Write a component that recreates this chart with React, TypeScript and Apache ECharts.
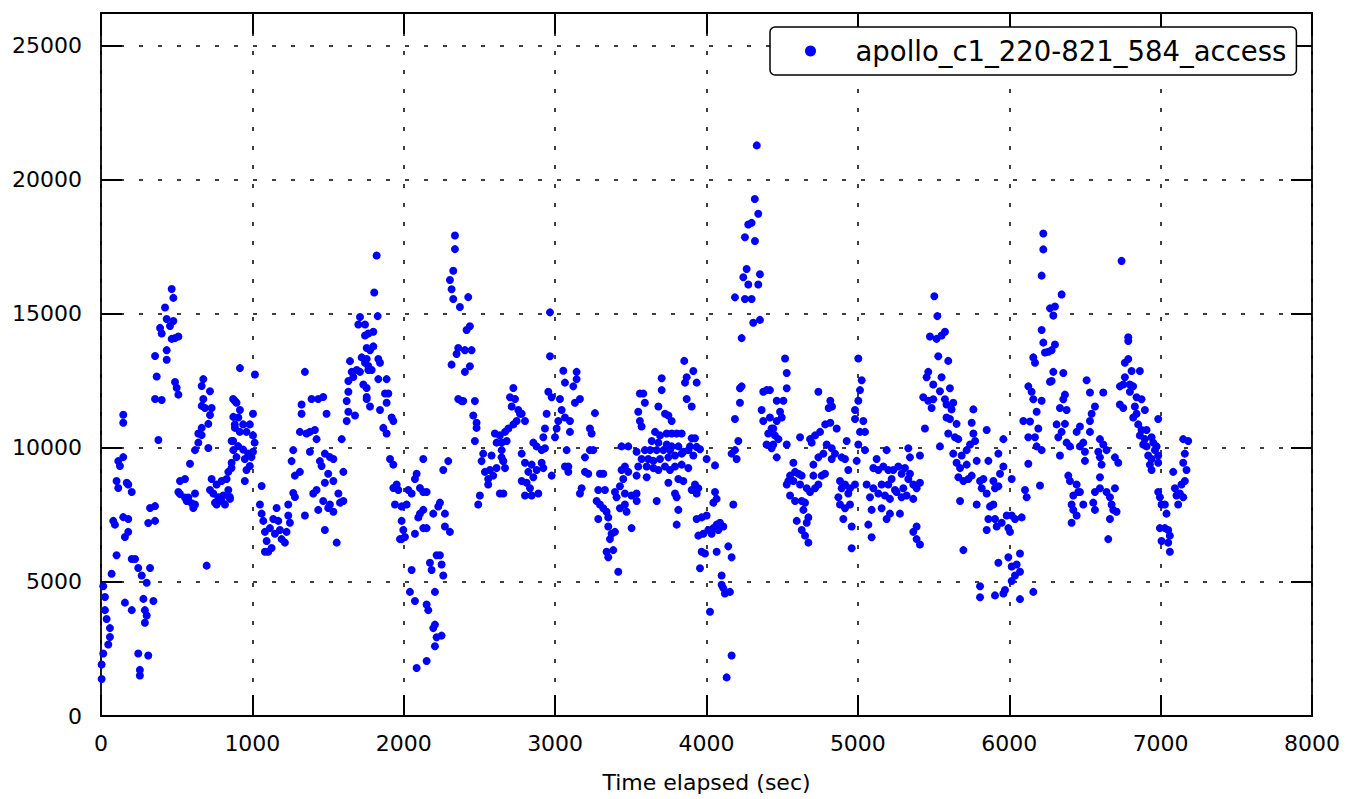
import { useEffect, useRef } from "react";
import * as echarts from "echarts";

const seriesName = "apollo_c1_220-821_584_access";
const xAxisName = "Time elapsed (sec)";
const xMin = 0;
const xMax = 8000;
const xStep = 1000;
const yMin = 0;
const yMax = 26230;
const yStep = 5000;

// [time elapsed (sec), access count]
const seg0to1000: number[][] = [
  [4,1380],[4,1920],[15,2330],[48,2670],[59,2950],[59,3280],[37,3620],[26,3950],[26,4440],[15,4840],[70,5310],[103,6000],[81,7280],[92,7140],[147,7420],[180,7350],[180,6870],[158,6680],[103,8770],[114,8510],[180,8640],[203,8360],[170,8700],[114,9510],[147,9660],[125,9330],[147,11240],[147,10940],
  [203,5860],[225,5860],[246,5520],[269,5240],[302,4970],[324,5520],[158,4230],[203,3950],[280,4370],[346,4290],[290,3950],[302,3750],[290,3480],[246,2330],[312,2260],[257,1720],[257,1510],
  [324,7760],[357,7830],[312,7200],[357,7280],[379,10300],[357,11830],[401,11790],[368,12670],[357,13430],[434,13650],[434,13290],[489,12460],[511,11990],[500,12250],
  [467,15930],[478,15600],[423,15240],[434,14810],[478,14740],[456,14550],[401,14270],[390,14480],[467,14070],[511,14160],[489,14100],
  [522,8770],[555,8840],[511,8360],[522,8280],[555,8150],[566,8020],[577,8150],[599,7940],[610,7760],[621,8300],[621,7890],[588,9410],[621,9920],[643,10200],[665,10750],[643,10540],[665,10480],[676,12570],[665,12310],[720,12120],[676,11830],[665,11570],[687,11490],[731,11490],[720,11230],[709,10900],[709,10000],[698,5610],
  [731,8840],[764,8640],[797,8770],[830,8840],[720,8430],[742,8300],[775,8160],[797,8020],[819,7890],[753,7960],[808,8230],[841,8430],[852,8100],[764,7890],
  [841,9110],[863,9450],[874,9920],[863,10260],[885,10750],[874,11160],[885,11750],
  [918,12980],[1017,12740],[873,11830],[895,11690],[918,11420],[907,11140],[884,10880],[917,10600],[939,10880],[983,10880],[1004,11280],[1004,10470],[1015,10200],[961,10600],[873,10260],[906,10070],[939,9940],[972,9790],[1004,9860],[994,9660],[950,9590],[895,9660],[862,9250],[983,9330],[961,9180],[950,8770],[851,8170],
];

const seg1000to2000: number[][] = [
  [1061,8580],[1050,7890],[1061,7550],[1072,7280],[1083,6870],[1094,6530],[1105,6130],[1138,7350],[1160,7760],[1171,7280],[1182,6940],[1193,6600],[1215,6470],[1237,7890],[1237,7480],[1248,7210],[1226,6870],[1116,7010],[1149,6800],[1127,6270],[1083,6130],
  [1270,8320],[1281,8170],[1281,8970],[1259,9510],[1270,9920],[1314,9110],[1325,11620],[1325,11280],[1347,12840],[1358,10540],[1380,10600],[1413,10670],[1435,11830],[1391,11830],[1314,10600],[1347,7480],[1380,9860],[1424,10330],[1446,9510],[1457,9330],[1479,9790],[1512,9660],[1535,9590],[1501,9040],[1479,8700],[1535,8770],[1424,8430],[1402,8300],[1468,8020],[1501,7760],[1535,7620],[1579,7960],[1601,8020],[1568,8300],[1435,7690],[1479,6940],[1557,6470],[1512,7890],[1601,9110],[1468,11900],[1490,11280],
  [1590,10330],[1623,11010],[1634,11350],[1623,11750],[1634,12100],[1634,12500],[1645,13240],[1656,12840],[1667,12650],[1678,11210],[1689,12910],[1711,12840],[1722,13380],[1700,14610],[1711,14890],[1744,14200],[1755,13730],[1744,13180],[1755,12240],[1766,13060],[1733,12370],[1755,11900],
  [1821,17180],[1805,15800],[1828,14920],[1744,14610],[1766,14270],[1799,14340],[1799,13790],[1777,13650],[1755,13320],[1766,12910],[1788,12910],[1832,13320],[1843,13180],[1832,12570],[1887,12570],[1755,11830],[1777,11550],[1876,12030],[1898,12030],[1887,11690],[1843,11420],[1920,11140],[1931,11010],[1865,10750],[1887,10540],
  [1909,9590],[1931,9380],[1931,8510],[1953,8640],[1964,8430],[1942,7890],[1986,7820],[2019,7890],[1986,7280],[1997,6940],[1986,6600],[1975,6600],[2008,6680],
];

const seg2000to3000: number[][] = [
  [2030,8430],[2052,8300],[2074,8840],[2085,9040],[2107,8510],[2129,8360],[2151,8360],[2107,7550],[2129,7690],[2096,7410],[2129,7010],[2151,7010],[2074,6800],[2129,9590],[2195,7550],[2239,7960],[2228,7820],[2272,7550],[2272,7070],[2305,6870],[2294,9510],[2261,9180],
  [2052,5450],[2041,4630],[2074,4290],[2151,4160],[2162,3950],[2173,5720],[2184,5450],[2217,6000],[2239,6000],[2250,5650],[2261,5240],[2206,4630],[2206,3410],[2195,3280],[2217,2940],[2250,3000],[2206,2600],[2085,1790],[2151,2050],
  [2338,17930],[2338,17420],[2327,16610],[2305,16270],[2316,15920],[2327,15560],[2371,15260],[2426,15630],[2415,14400],[2437,14540],[2360,13730],[2404,13650],[2448,13650],[2349,13510],[2316,13110],[2404,12840],[2437,13050],[2360,11830],[2382,11750],[2393,11750],[2470,11750],[2459,11210],[2481,10940],[2481,10750],[2470,10260],
  [2525,9790],[2514,9510],[2536,9110],[2591,8970],[2558,8640],[2503,8230],[2492,7890],[2602,10540],[2613,10200],[2635,10470],[2646,10200],[2580,9720],[2646,9650],[2657,9510],[2613,9250],[2569,9180],[2558,8840],[2635,8300],
  [2724,12240],[2702,11890],[2735,11830],[2713,11550],[2757,11420],[2779,11280],[2801,11010],[2746,11010],[2724,10880],[2691,10730],[2669,10600],[2680,10260],[2647,9920],[2658,9510],[2669,9250],[2768,11280],[2658,8300],[2779,9790],[2801,9450],[2856,10200],[2878,10060],[2911,9920],[2845,9380],[2878,9180],[2823,9110],[2911,9450],[2779,8770],[2856,8910],[2812,8700],[2834,8500],[2801,8230],[2845,8230],[2889,8300],[2922,9250],[2977,8970],[2933,9990],
  [2966,15060],[2966,13420],[3054,12880],[3142,12840],[3142,12570],[3065,12440],[3120,12300],[3164,11830],[3131,11690],[3032,11830],[2955,12100],[2977,11890],[3043,11420],[3065,11140],[2944,11280],[3021,11010],[3098,11010],[3098,10600],[3010,10730],[2999,10400],[2933,10730],[2922,10400],[3263,11300],[3230,10730],[3241,10540],
];

const seg3000to4000: number[][] = [
  [3076,9920],[3087,9310],[3087,9110],[3065,9310],[3175,8500],[3164,8300],[3197,9110],[3219,9040],[3197,9650],[3230,9920],[3252,9920],[3296,9040],[3318,9040],[3285,8430],[3274,8020],[3296,7890],[3318,7750],[3285,7350],[3340,7620],[3351,7410],[3351,7070],[3373,6800],[3395,6870],[3362,6600],[3340,6130],[3351,5920],[3384,6190],[3417,5380],[3329,8430],[3395,8360],[3406,8160],[3428,8570],[3450,8840],[3439,9180],[3461,9310],[3483,9110],[3505,8230],[3461,7890],[3472,7620],[3428,7750],[3505,7010],[3439,10060],[3483,10060],[3538,9860],[3538,8970],[3549,9310],[3538,8300],[3549,11350],[3560,11010],[3560,12030],[3461,8300],
  [3853,13250],[3913,12870],[3869,12640],[3935,12440],[3858,12440],[3869,11830],[3902,11550],
  [3704,12600],[3704,12160],[3682,11550],[3726,11280],[3748,11210],[3770,11010],[3582,12030],[3593,11690],[3571,10800],[3539,8020],[3571,9590],
  [3660,10600],[3693,10470],[3737,10540],[3770,10540],[3803,10540],[3836,10540],[3638,10260],[3682,10200],[3737,10130],[3770,10060],[3814,10060],[3902,10360],[3924,10360],[3891,10060],[3935,10040],[3593,9920],[3627,9920],[3671,9920],[3715,9920],[3759,9920],[3847,9860],[3880,9920],[3957,9950],[3615,9590],[3649,9520],[3693,9590],[3748,9650],[3792,9720],[3836,9790],[3913,9720],[3605,9310],[3649,9250],[3682,9180],[3726,9310],[3759,9180],[3792,9310],[3836,9380],[3880,9250],
  [3605,8910],[3671,8020],[3748,8700],[3792,8300],[3803,8160],[3814,8840],[3847,8770],[3814,7690],[3803,7140],[3924,8640],[3946,8500],[3935,8300],[3902,8430],
  [3935,7350],[3968,7410],[4001,7480],[3946,6730],[3979,6800],[4012,6940],[4045,7010],[4067,7140],[4089,7210],[4111,7070],[4034,6800],[4078,6940],[3968,6130],[3990,6060],[3957,5510],[4067,6130],[4144,6330],[4166,5920],[4056,8360],[4067,8100],[4045,7960],[4177,7890],[4100,5240],[4100,4900],[4122,4570],[4155,4630],[4111,4770],[4023,3890],[4166,2260],[4133,1440],
  [4001,9590],[4056,9350],
];

const seg4000to5000: number[][] = [
  [4188,11080],[4210,10260],[4221,11690],[4221,12230],[4232,12300],[4166,9790],[4188,9920],[4199,9590],[4375,12100],[4397,12160],[4364,11420],[4375,11010],[4408,10540],[4430,10730],[4397,10130],[4430,9990],
  [4332,21290],[4319,19290],[4342,18740],[4298,18400],[4276,18340],[4254,17860],[4320,17720],[4265,16680],[4243,16370],[4276,16100],[4342,16100],[4353,16480],[4188,15620],[4254,15560],[4298,15560],[4309,14670],[4353,14780],[4232,14100],
  [4519,13340],[4530,12800],[4530,12230],[4464,11760],[4508,11760],[4486,11350],[4497,11140],[4464,11010],[4441,10730],[4452,10470],[4475,10330],[4441,10130],[4464,9650],[4530,10130],[4419,12160],[4419,11140],
  [4739,12100],[4818,11760],[4807,11490],[4829,11550],
  [4784,10880],[4818,10940],[4860,10730],[4750,10600],[4717,10470],[4684,10330],[4695,10200],[4618,10400],[4794,10130],[4827,9990],[4849,9790],[4893,9650],[4772,9790],[4739,9650],[4706,9380],[4827,9590],[4926,10260],[4915,9590],
  [4574,9450],[4585,9110],[4552,8970],[4607,9040],[4629,8970],[4541,8770],[4574,8770],[4530,8640],[4618,8640],[4706,8970],[4662,8500],[4684,8360],[4717,8500],[4739,8640],[4761,8970],[4783,9040],[4552,8230],[4585,8020],[4629,8020],[4651,7960],[4640,7690],[4673,7410],[4662,7210],[4596,7280],[4629,6940],[4651,6730],[4673,6470],[4937,9180],[4882,8770],[4893,8500],[4915,8640],[4948,8500],[4981,8640],[4937,8300],[4871,8160],[4882,7890],[4915,7750],[4948,7890],[4904,7350],[4959,7070],[4959,6260],
];

const seg5000to6000: number[][] = [
  [5003,13340],[5025,12530],[5014,12160],[5003,11760],[4981,11420],[4981,11080],[5036,11010],[5047,10600],[5014,10600],[5003,10130],[5047,9920],[4992,9520],
  [5124,9590],[5102,9250],[5135,9180],[5168,9310],[5201,9180],[5190,9920],[5234,9180],[5267,9310],[5289,9040],[5311,9250],[5333,9990],[5058,8640],[5102,8500],[5080,8160],[5135,8300],[5157,8640],[5201,8640],[5223,8840],[5245,8430],[5179,8230],[5212,8100],[5256,8360],[5289,8160],[5300,8500],[5322,8230],[5091,7690],[5157,7750],[5190,7350],[5212,7550],[5278,7550],[5069,7140],[5091,6670],
  [5344,9650],[5344,9040],[5333,8840],[5366,8640],[5410,8700],[5388,8500],[5410,9720],[5366,8100],[5388,7070],[5366,6870],[5388,6600],[5410,6400],
  [5505,15660],[5525,14920],[5476,14160],[5520,14070],[5553,14200],[5575,14340],[5531,13420],[5597,13250],[5465,12840],[5454,12640],[5498,12370],[5553,12640],[5542,12120],[5608,12230],[5432,11890],[5465,11760],[5498,11820],[5487,11490],[5575,11820],[5586,11620],[5630,11690],[5619,11440],[5586,11140],[5608,11080],[5652,10900],[5597,10540],[5641,10400],[5663,10330],[5443,10730],[5542,10060],
  [5763,11440],[5752,10940],[5763,10540],[5774,10260],[5741,10130],[5719,9920],[5686,9720],[5630,9790],[5652,9450],[5675,9250],[5719,9380],[5785,9520],[5862,9520],[5851,10670],[5664,8910],[5697,8770],[5730,8840],[5752,8970],[5675,8020],[5697,6190],[5785,7890],[5807,8770],[5829,8840],[5818,8500],[5851,8300],[5895,8770],[5906,8500],[5928,8570],[5873,7820],[5895,7890],[5862,7350],[5906,7350],[5851,6940],[5917,7070],[5950,7210],[5983,7480],[5994,7010],[5939,9040],[5961,9310],[5961,10330],[5928,9790],
  [5928,5720],[5994,5920],[5972,4700],[5961,4570],[5807,4840],[5807,4430],[5906,4500],
];

const seg6000to7200: number[][] = [
  [6016,7480],[6038,7350],[6082,7410],[6005,6870],[6016,8840],
  [6071,6060],[6016,5580],[6049,5650],[6071,5380],[6038,5240],[6016,5040],[6071,4360],[6159,4630],
  [6225,18000],[6225,17410],[6214,16430],[6214,14400],[6225,13930],[6236,13560],[6159,13380],[6170,13180],[6126,12300],[6148,12100],[6159,11820],[6214,11760],[6181,11350],[6093,11010],[6137,10990],[6192,10730],[6126,10400],[6170,10400],[6181,10060],[6214,9920],[6126,9410],[6104,8430],[6115,8160],[6203,8600],
  [6346,15730],[6269,15210],[6302,15280],[6291,14940],[6302,13860],[6280,13650],[6258,13590],[6291,12840],[6357,12800],[6280,12500],[6269,12470],[6368,11990],[6357,11820],[6335,11490],[6379,11420],[6313,10880],[6368,10900],[6346,10600],[6324,10400],[6379,10200],[6401,10060],[6335,9720],
  [6511,12530],[6533,12070],[6621,12070],[6566,11550],[6544,11280],[6533,11010],[6467,10800],[6445,10600],[6533,10600],[6489,10200],[6467,10060],[6500,9860],[6599,10330],[6621,10130],[6588,9860],[6643,9920],[6599,9650],[6610,9380],[6500,9520],[6698,9650],[6720,9450],
  [6390,8970],[6401,8770],[6445,8640],[6456,8360],[6423,8230],[6412,7890],[6423,7690],[6445,7480],[6412,7210],[6489,7890],[6566,8360],[6555,7960],[6566,7690],[6599,8910],[6599,8500],[6643,8360],[6665,8160],[6676,7890],[6698,8500],[6687,7690],[6709,7620],[6665,7350],[6654,6600],[6467,8360],
  [6742,16980],[6786,14130],[6786,13990],[6764,13180],[6786,13320],
  [6731,12300],[6753,12370],[6808,12870],[6863,12870],[6764,12640],[6797,12370],[6819,12300],[6797,12100],[6841,11890],[6874,11820],[6731,11620],[6753,11490],[6830,11550],[6896,11420],[6841,11280],[6819,11140],[6852,10880],[6874,10670],[6907,10670],[6863,10470],[6896,10330],[6940,10400],[6951,10200],[6885,10130],[6907,10060],[6973,10060],[6962,9920],[6918,9720],[6940,9590],[6984,9720],[6929,9380],[6940,9180],[6984,9450],[6984,11080],
  [6984,8360],[6995,8160],[7006,7890],[7028,7890],[7039,7550],[6995,7010],[7028,7010],[7050,6940],[7061,6730],[7006,6530],[7050,6470],[7061,6130],[7083,9110],[7094,8500],[7105,8230],[7127,8300],[7138,8640],[7116,7890],[7149,8160],[7160,8770],[7171,9180],[7149,9450],[7160,9790],[7149,10330],[7182,10260],
];

const FONT = "'DejaVu Sans', sans-serif";

function tick() {
  return { show: true, inside: true, length: 21, lineStyle: { color: "#000", width: 2 } };
}
function axisLineStyle() {
  return { show: true, onZero: false, lineStyle: { color: "#000", width: 1.8 } };
}
function gridLine() {
  return { show: true, lineStyle: { color: "#000", width: 1.5, type: [4, 15] as any } };
}

export default function App() {
  const ref = useRef<HTMLDivElement>(null);
  useEffect(() => {
    if (!ref.current) return;
    const chart = echarts.init(ref.current, undefined, { renderer: "svg" });
    const points = [
      ...seg0to1000,
      ...seg1000to2000,
      ...seg2000to3000,
      ...seg3000to4000,
      ...seg4000to5000,
      ...seg5000to6000,
      ...seg6000to7200,
    ];
    const plain = (v: number) => String(v);
    chart.setOption({
      animation: false,
      backgroundColor: "#fff",
      textStyle: { fontFamily: FONT },
      grid: { left: 101, right: 34, top: 13, bottom: 83, containLabel: false },
      legend: {
        data: [{ name: seriesName, icon: "circle" }],
        left: 770,
        top: 27,
        orient: "horizontal",
        padding: [10, 10, 10, 35],
        itemWidth: 80,
        itemHeight: 11,
        backgroundColor: "#fff",
        borderColor: "#000",
        borderWidth: 1.5,
        borderRadius: 5,
        textStyle: { fontSize: 27.5, color: "#000", fontFamily: FONT },
        z: 10,
      },
      xAxis: [
        {
          type: "value",
          position: "bottom",
          min: xMin,
          max: xMax,
          interval: xStep,
          name: xAxisName,
          nameLocation: "middle",
          nameGap: 55,
          nameTextStyle: { fontSize: 22, color: "#000", fontFamily: FONT },
          axisLine: axisLineStyle(),
          axisTick: tick(),
          axisLabel: { fontSize: 22, color: "#000", margin: 16, fontFamily: FONT, formatter: plain },
          splitLine: gridLine(),
        },
        {
          type: "value",
          position: "top",
          min: xMin,
          max: xMax,
          interval: xStep,
          axisLine: axisLineStyle(),
          axisTick: tick(),
          axisLabel: { show: false },
          splitLine: { show: false },
        },
      ],
      yAxis: [
        {
          type: "value",
          position: "left",
          min: yMin,
          max: yMax,
          interval: yStep,
          axisLine: axisLineStyle(),
          axisTick: tick(),
          axisLabel: { fontSize: 22, color: "#000", margin: 19, fontFamily: FONT, showMaxLabel: false, formatter: plain },
          splitLine: gridLine(),
        },
        {
          type: "value",
          position: "right",
          min: yMin,
          max: yMax,
          interval: yStep,
          axisLine: axisLineStyle(),
          axisTick: tick(),
          axisLabel: { show: false },
          splitLine: { show: false },
        },
      ],
      series: [
        {
          name: seriesName,
          type: "scatter",
          xAxisIndex: 0,
          yAxisIndex: 0,
          symbol: "circle",
          symbolSize: 8,
          itemStyle: { color: "#0000ff", opacity: 1 },
          data: points,
        },
      ],
    });
    return () => chart.dispose();
  }, []);
  return (
    <div
      ref={ref}
      style={{ position: "fixed", left: 0, top: 0, width: 1346, height: 799, background: "#fff" }}
    />
  );
}
